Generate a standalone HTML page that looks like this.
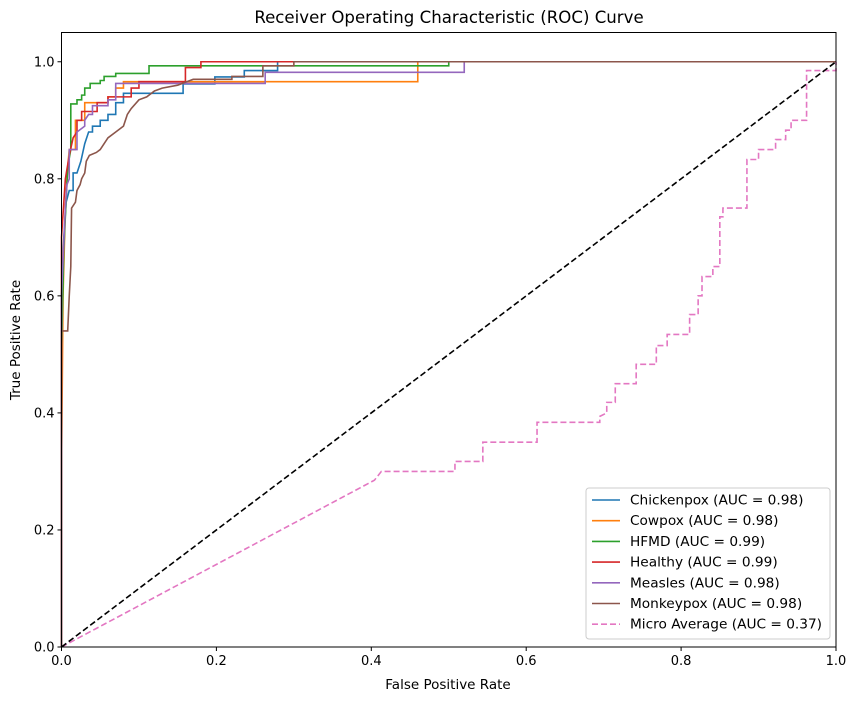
<!DOCTYPE html>
<html><head><meta charset="utf-8"><style>
body{margin:0;background:#fff;}
svg text{font-family:"DejaVu Sans","Liberation Sans",sans-serif;fill:#000;}
</style></head><body>
<svg id="chart" width="857" height="701" xmlns="http://www.w3.org/2000/svg">
<rect width="857" height="701" fill="#fff"/>
<text x="449" y="23" font-size="16.6" text-anchor="middle">Receiver Operating Characteristic (ROC) Curve</text>
<text x="448" y="689" font-size="13.5" text-anchor="middle">False Positive Rate</text>
<text x="20" y="340" font-size="13.5" text-anchor="middle" transform="rotate(-90 20 340)">True Positive Rate</text>
<g id="plot"></g>
<g id="axes"></g>
<g id="legend"></g>
</svg>
<script>
const names = ["Chickenpox (AUC = 0.98)","Cowpox (AUC = 0.98)","HFMD (AUC = 0.99)","Healthy (AUC = 0.99)","Measles (AUC = 0.98)","Monkeypox (AUC = 0.98)","Micro Average (AUC = 0.37)"];
const colors = ["#1f77b4","#ff7f0e","#2ca02c","#d62728","#9467bd","#8c564b","#e377c2"];
const xTicks = [0,0.2,0.4,0.6,0.8,1.0];
const xTickLabels = ["0.0","0.2","0.4","0.6","0.8","1.0"];
const yTicks = [0,0.2,0.4,0.6,0.8,1.0];
const yTickLabels = ["0.0","0.2","0.4","0.6","0.8","1.0"];
const chickenpox = [[0,0],[0,0.6],[0.003,0.7],[0.006,0.76],[0.01,0.78],[0.015,0.78],[0.015,0.81],[0.02,0.81],[0.025,0.83],[0.03,0.86],[0.035,0.88],[0.04,0.88],[0.04,0.89],[0.05,0.89],[0.05,0.9],[0.06,0.9],[0.06,0.91],[0.07,0.91],[0.07,0.93],[0.08,0.93],[0.08,0.946],[0.157,0.946],[0.157,0.962],[0.198,0.962],[0.198,0.974],[0.236,0.974],[0.236,0.985],[0.279,0.985],[0.279,1],[1,1]];
const cowpox = [[0,0],[0,0.3],[0.002,0.6],[0.005,0.75],[0.008,0.82],[0.01,0.85],[0.018,0.85],[0.018,0.9],[0.03,0.9],[0.03,0.93],[0.06,0.93],[0.06,0.94],[0.07,0.94],[0.07,0.955],[0.08,0.955],[0.08,0.966],[0.46,0.966],[0.46,1],[1,1]];
const hfmd = [[0,0],[0,0.5],[0.003,0.68],[0.008,0.82],[0.012,0.85],[0.012,0.928],[0.02,0.928],[0.02,0.935],[0.026,0.935],[0.026,0.943],[0.03,0.943],[0.03,0.955],[0.037,0.955],[0.037,0.963],[0.05,0.963],[0.05,0.968],[0.055,0.968],[0.055,0.975],[0.07,0.975],[0.07,0.98],[0.113,0.98],[0.113,0.993],[0.5,0.993],[0.5,1],[1,1]];
const healthy = [[0,0],[0,0.7],[0.005,0.8],[0.01,0.84],[0.015,0.87],[0.02,0.88],[0.02,0.9],[0.026,0.9],[0.026,0.915],[0.046,0.915],[0.046,0.93],[0.06,0.93],[0.06,0.94],[0.09,0.94],[0.09,0.955],[0.1,0.955],[0.1,0.966],[0.16,0.966],[0.16,0.99],[0.18,0.99],[0.18,1],[1,1]];
const measles = [[0,0],[0,0.6],[0.005,0.75],[0.007,0.79],[0.01,0.8],[0.01,0.85],[0.02,0.85],[0.02,0.88],[0.03,0.89],[0.03,0.9],[0.035,0.91],[0.04,0.91],[0.04,0.925],[0.06,0.925],[0.06,0.935],[0.07,0.935],[0.07,0.963],[0.263,0.963],[0.263,0.982],[0.52,0.982],[0.52,1],[1,1]];
const monkeypox = [[0,0],[0,0.54],[0.008,0.54],[0.01,0.6],[0.012,0.65],[0.013,0.75],[0.018,0.76],[0.02,0.78],[0.024,0.79],[0.026,0.8],[0.03,0.81],[0.032,0.83],[0.036,0.84],[0.045,0.845],[0.05,0.85],[0.055,0.86],[0.06,0.87],[0.07,0.88],[0.08,0.89],[0.085,0.91],[0.09,0.92],[0.1,0.935],[0.11,0.94],[0.12,0.95],[0.13,0.955],[0.15,0.96],[0.16,0.965],[0.17,0.97],[0.22,0.97],[0.22,0.975],[0.26,0.975],[0.26,0.993],[0.3,0.993],[0.3,1],[1,1]];
const micro = [[0,0],[0.404,0.285],[0.413,0.3],[0.508,0.3],[0.508,0.317],[0.544,0.317],[0.544,0.35],[0.614,0.35],[0.614,0.384],[0.695,0.384],[0.695,0.394],[0.704,0.4],[0.704,0.418],[0.715,0.418],[0.715,0.45],[0.742,0.45],[0.742,0.483],[0.768,0.483],[0.768,0.515],[0.782,0.515],[0.782,0.534],[0.811,0.534],[0.811,0.568],[0.822,0.568],[0.822,0.6],[0.827,0.6],[0.827,0.633],[0.841,0.633],[0.841,0.65],[0.85,0.65],[0.85,0.735],[0.854,0.735],[0.854,0.75],[0.885,0.75],[0.885,0.833],[0.9,0.833],[0.9,0.85],[0.922,0.85],[0.922,0.867],[0.935,0.867],[0.935,0.883],[0.942,0.883],[0.942,0.9],[0.962,0.9],[0.962,0.985],[1,0.985],[1,1]];
const series = [chickenpox,cowpox,hfmd,healthy,measles,monkeypox,micro];
const seriesNames = ["chickenpox-curve","cowpox-curve","hfmd-curve","healthy-curve","measles-curve","monkeypox-curve","micro-average-curve"];

const NS="http://www.w3.org/2000/svg";
const L=61.5,R=836,T=32.5,B=647;
const xs=v=>L+v*(R-L);
const ys=v=>B-v*(B-T)/1.05;
function mk(tag,attrs,parent){const e=document.createElementNS(NS,tag);for(const k in attrs)e.setAttribute(k,attrs[k]);parent.appendChild(e);return e;}
const plot=document.getElementById('plot'),axes=document.getElementById('axes'),leg=document.getElementById('legend');

series.forEach((s,i)=>{
  const p=mk('polyline',{points:s.map(d=>xs(d[0]).toFixed(2)+','+ys(d[1]).toFixed(2)).join(' '),fill:'none',stroke:colors[i],'stroke-width':1.6,'stroke-dasharray':i===6?'6,3':'none'},plot);
  
  
});
const diag=mk('line',{x1:xs(0),y1:ys(0),x2:xs(1),y2:ys(1),stroke:'#000','stroke-width':1.6,'stroke-dasharray':'6,3'},plot);



const frame=mk('rect',{x:L,y:T,width:R-L,height:B-T,fill:'none',stroke:'#000','stroke-width':1},axes);


xTicks.forEach((v,i)=>{
  mk('line',{x1:xs(v),y1:B,x2:xs(v),y2:B+4,stroke:'#000'},axes);
  const t=mk('text',{x:xs(v),y:B+18,'font-size':13,'text-anchor':'middle'},axes);
  t.textContent=xTickLabels[i];
  
  
});
yTicks.forEach((v,i)=>{
  mk('line',{x1:L-4,y1:ys(v),x2:L,y2:ys(v),stroke:'#000'},axes);
  const t=mk('text',{x:L-7,y:ys(v)+4.5,'font-size':13,'text-anchor':'end'},axes);
  t.textContent=yTickLabels[i];
  
  
});

const lb=mk('rect',{x:586,y:488,width:244,height:151,rx:3,fill:'#fff','fill-opacity':0.8,stroke:'#ccc'},leg);


names.forEach((n,i)=>{
  const y=500+i*20.7;
  const g=mk('g',{},leg);
  
  
  mk('line',{x1:592,y1:y,x2:620,y2:y,stroke:colors[i],'stroke-width':1.6,'stroke-dasharray':i===6?'6,3':'none'},g);
  const t=mk('text',{x:630,y:y+4.5,'font-size':13.7},g);
  t.textContent=n;
});
</script>
</body></html>
